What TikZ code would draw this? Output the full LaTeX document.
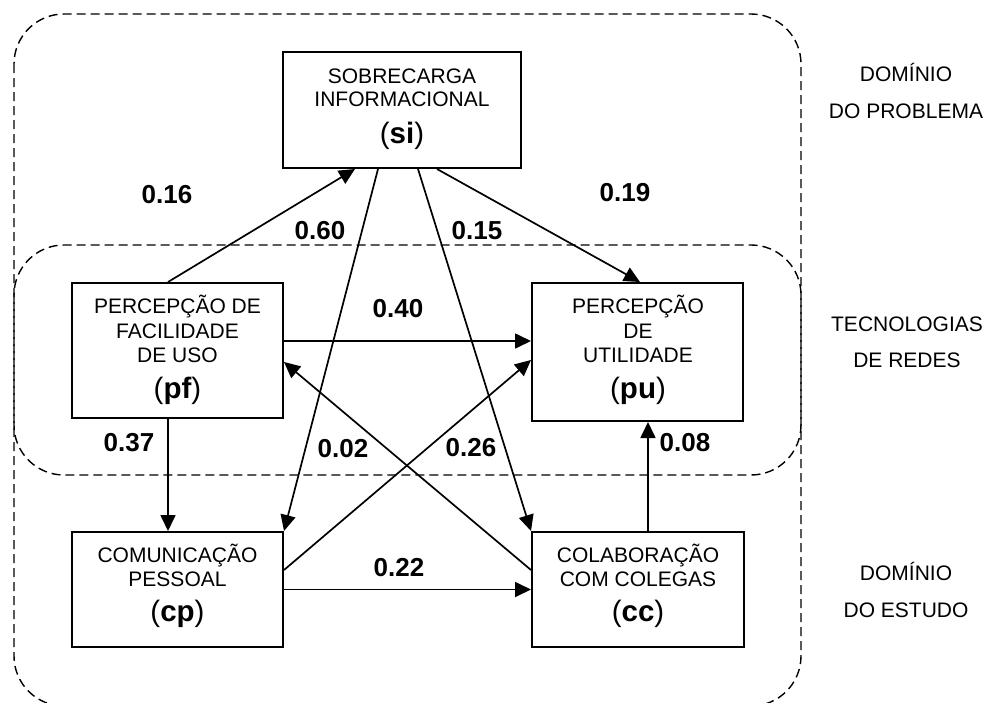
\documentclass[tikz,border=0pt]{standalone}
\usepackage{fontspec}
\setmainfont{Liberation Sans}
\usetikzlibrary{arrows.meta,calc}
\begin{document}
\begin{tikzpicture}[x=1pt,y=-1pt,
  box/.style={draw,line width=2pt,rectangle,inner sep=0pt},
  arr/.style={line width=1.7pt,-{Triangle[length=16pt,width=15pt]}},
  zone/.style={draw,dashed,dash pattern=on 9pt off 5pt,line width=1.4pt,rounded corners=50pt},
  txt/.style={anchor=base,inner sep=0pt,font=\fontsize{21}{24}\selectfont},
  ttl/.style={anchor=base,inner sep=0pt,font=\fontsize{29.5}{32}\selectfont},
  num/.style={anchor=base,inner sep=0pt,font=\fontsize{26}{28}\selectfont\bfseries}]
\useasboundingbox (0,0) rectangle (987,702);
% zones
\draw[zone] (14,14) rectangle (801,706);
\draw[zone] (14,245) rectangle (801,475);
% boxes
\node[box,minimum width=238pt,minimum height=116pt] (si) at (402,110) {};
\node[box,minimum width=211pt,minimum height=135pt] (pf) at (177.5,350.5) {};
\node[box,minimum width=211pt,minimum height=138pt] (pu) at (637.5,352) {};
\node[box,minimum width=211pt,minimum height=115pt] (cp) at (177.5,589.5) {};
\node[box,minimum width=212pt,minimum height=115pt] (cc) at (638,589.5) {};
% box texts
\node[txt] (si1) at (402,83.5) {SOBRECARGA};
\node[txt] (si2) at (402,106.7) {INFORMACIONAL};
\node[ttl] (si3) at (402,143.3) {(\textbf{si})};
\node[txt] (pf1) at (177.5,313.3) {PERCEPÇÃO DE};
\node[txt] (pf2) at (177.5,338.3) {FACILIDADE};
\node[txt] (pf3) at (177.5,362.5) {DE USO};
\node[ttl] (pf4) at (177.5,398) {(\textbf{pf})};
\node[txt] (pu1) at (638,313.3) {PERCEPÇÃO};
\node[txt] (pu2) at (638,338.3) {DE};
\node[txt] (pu3) at (638,362.5) {UTILIDADE};
\node[ttl] (pu4) at (638,398) {(\textbf{pu})};
\node[txt] (cp1) at (177.5,562.7) {COMUNICAÇÃO};
\node[txt] (cp2) at (177.5,586.7) {PESSOAL};
\node[ttl] (cp3) at (177.5,621.7) {(\textbf{cp})};
\node[txt] (cc1) at (638,562.7) {COLABORAÇÃO};
\node[txt] (cc2) at (638,586.7) {COM COLEGAS};
\node[ttl] (cc3) at (638,621.7) {(\textbf{cc})};
% zone labels
\node[txt] (z1) at (906,81.7) {DOMÍNIO};
\node[txt] (z2) at (906,118.3) {DO PROBLEMA};
\node[txt] (z3) at (907,331.7) {TECNOLOGIAS};
\node[txt] (z4) at (907,367.3) {DE REDES};
\node[txt] (z5) at (906,580.7) {DOMÍNIO};
\node[txt] (z6) at (906,617.3) {DO ESTUDO};
% arrows
\draw[arr] ([xshift=-9.5pt]pf.north) -- ([xshift=-47pt]si.south);
\draw[arr] ([xshift=35pt]si.south) -- ([xshift=2.5pt]pu.north);
\draw[arr] ([xshift=-24pt]si.south) -- (cp.north east);
\draw[arr] ([xshift=16pt]si.south) -- (cc.north west);
\draw[arr] ([yshift=9.5pt]pf.east) -- ([yshift=11pt]pu.west);
\draw[arr] ([yshift=19.5pt]cp.east) -- ([yshift=-8pt]pu.west);
\draw[arr] ([yshift=19.5pt]cc.west) -- ([yshift=-11.5pt]pf.east);
\draw[arr] (cp.east) -- (cc.west);
\draw[arr] ([xshift=-9.5pt]pf.south) -- ([xshift=-9.5pt]cp.north);
\draw[arr] ([xshift=10pt]cc.north) -- ([xshift=10.5pt]pu.south);
% numbers
\node[num] (n16) at (167,203.3) {0.16};
\node[num] (n60) at (320,239.3) {0.60};
\node[num] (n15) at (477,239.3) {0.15};
\node[num] (n19) at (625,201.7) {0.19};
\node[num] (n40) at (398,317.3) {0.40};
\node[num] (n37) at (129,451.7) {0.37};
\node[num] (n02) at (343,457.3) {0.02};
\node[num] (n26) at (471,456) {0.26};
\node[num] (n08) at (685,451.7) {0.08};
\node[num] (n22) at (399,576) {0.22};
\end{tikzpicture}
\end{document}
